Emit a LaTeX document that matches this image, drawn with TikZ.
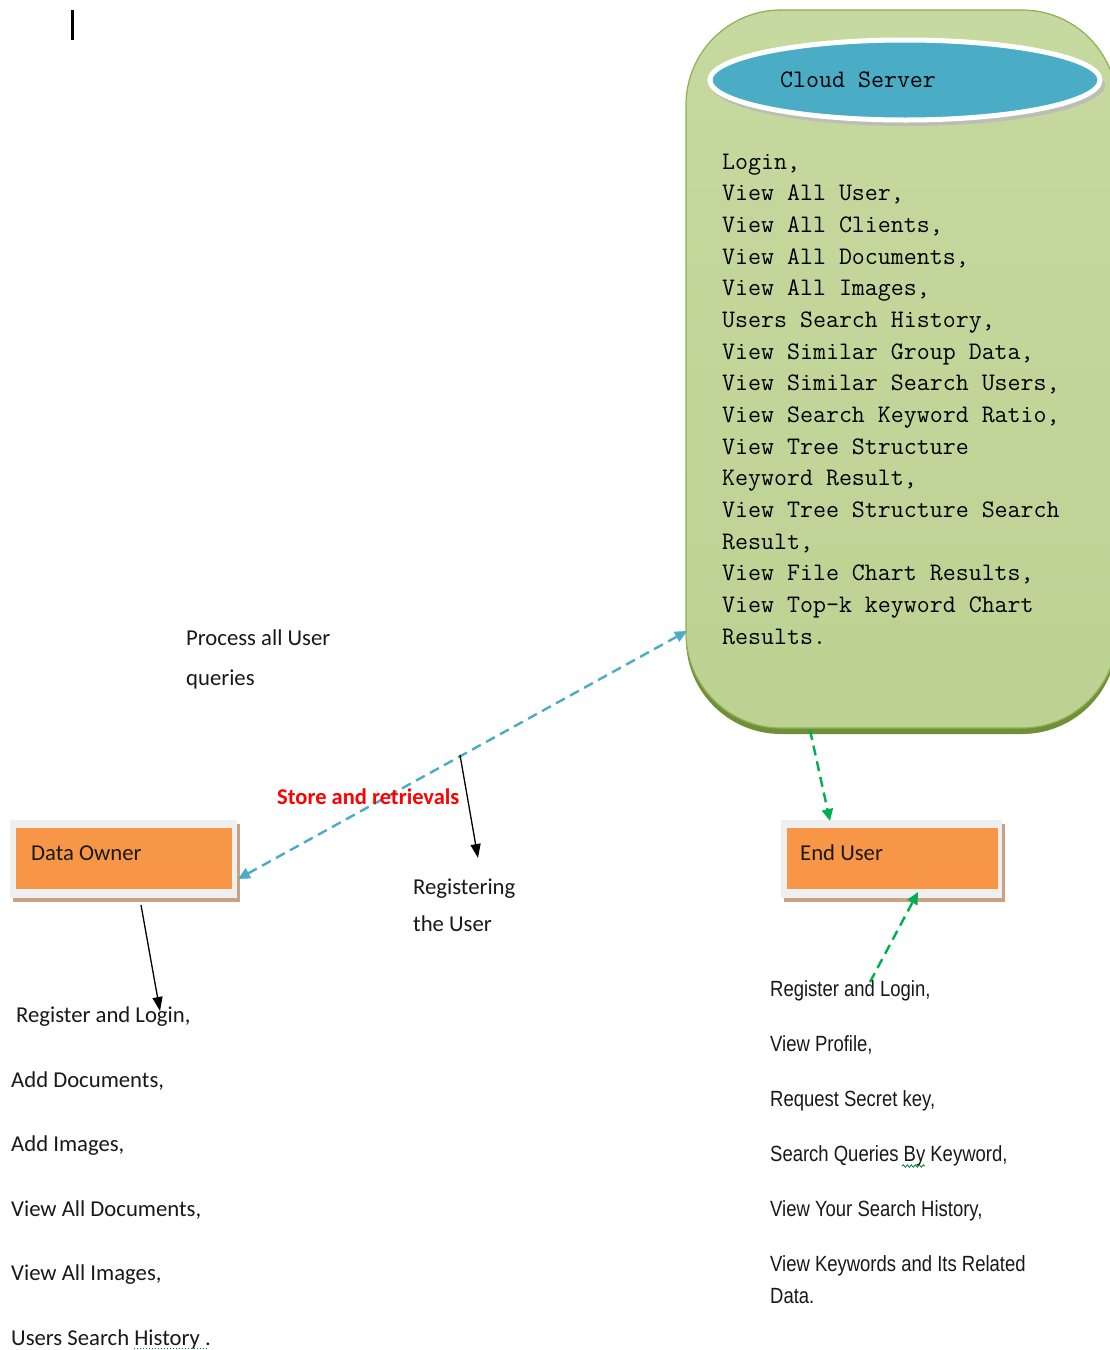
\documentclass[tikz,border=0pt]{standalone}
\usepackage{fontspec}
\setmainfont{Carlito}
\newfontfamily\narrowfont{Liberation Sans}[FakeStretch=0.84]
\usetikzlibrary{arrows.meta,shapes.geometric,decorations.pathmorphing}
\definecolor{cloudtop}{HTML}{C6D9A0}
\definecolor{cloudbot}{HTML}{BCD292}
\definecolor{cloudedge}{HTML}{8FAF50}
\definecolor{cloudshadow}{HTML}{6F8F38}
\definecolor{ovalblue}{HTML}{4BACC6}
\definecolor{boxorange}{HTML}{F79646}
\definecolor{boxframe}{HTML}{EFEFEF}
\definecolor{boxshadow}{HTML}{C9A183}
\definecolor{linkgreen}{HTML}{00B050}
\tikzset{
  calib/.style={font=\fontsize{22.7}{27}\selectfont, inner sep=0pt, anchor=base west, text=black!90},
  monotext/.style={font=\ttfamily\fontsize{25.2}{31.67}\selectfont, inner sep=0pt, anchor=base west, text=black},
  narrowtext/.style={font=\narrowfont\fontsize{22}{30}\selectfont, inner sep=0pt, anchor=base west, text=black!90},
  bluelink/.style={draw=ovalblue, line width=2.4pt, dash pattern=on 10pt off 6pt, {Triangle[length=12pt,width=11pt]}-{Triangle[length=12pt,width=11pt]}},
  greenlink/.style={draw=linkgreen, line width=2.4pt, dash pattern=on 10pt off 6pt, -{Triangle[length=12pt,width=11pt]}},
  blacklink/.style={draw=black, line width=1.3pt, -{Triangle[length=14pt,width=10pt]}},
}
\begin{document}
\begin{tikzpicture}[x=1pt,y=-1pt]
\useasboundingbox (0,0) rectangle (1110,1350);
\clip (0,0) rectangle (1110,1350);
\fill[white] (0,0) rectangle (1110,1350);

% cursor
\draw[line width=3pt] (72,10) -- (72,40);

% cloud server shape
\fill[cloudshadow, rounded corners=95pt] (686,16) rectangle (1117,734);
\path[top color=cloudtop, bottom color=cloudbot, draw=cloudedge, line width=1.2pt, rounded corners=95pt] (686,10) rectangle (1117,728);
\node[inner sep=0pt, minimum width=431pt, minimum height=718pt] (cloud) at (901.5,369) {};
\fill[gray!55, opacity=0.8] (908,85) ellipse [x radius=197pt, y radius=41pt];
\node[ellipse, minimum width=390pt, minimum height=80pt, fill=ovalblue, draw=white, line width=5pt] (oval) at (905,80) {};
\node[monotext] (cstitle) at (780,87) {Cloud Server};

\foreach \t [count=\i] in {{Login,},{View All User,},{View All Clients,},{View All Documents,},{View All Images,},{Users Search History,},{View Similar Group Data,},{View Similar Search Users,},{View Search Keyword Ratio,},{View Tree Structure},{Keyword Result,},{View Tree Structure Search},{Result,},{View File Chart Results,},{View Top-k keyword Chart},{Results.}}
  \node[monotext] (cs\i) at (722,{169+31.67*(\i-1)}) {\t};

% boxes
\fill[boxshadow] (13,824) rectangle (240,902);
\fill[boxframe] (10,820) rectangle (237,898);
\node[fill=boxorange, minimum width=216pt, minimum height=61pt, inner sep=0pt] (owner) at (124,858.5) {};
\node[calib] (ownerlbl) at (31,860) {Data Owner};

\fill[boxshadow] (784,824) rectangle (1005,902);
\fill[boxframe] (781,820) rectangle (1002,898);
\node[fill=boxorange, minimum width=211pt, minimum height=61pt, inner sep=0pt] (enduser) at (892.5,858.5) {};
\node[calib] (enduserlbl) at (800,860) {End User};

% labels
\node[calib] (proc1) at (186,645) {Process all User};
\node[calib] (proc2) at (186,685) {queries};
\node[calib] (reg1) at (413,894) {Registering};
\node[calib] (reg2) at (413,931) {the User};

% connectors
\coordinate (blueA) at (687,631);
\coordinate (blueB) at (238,879);
\draw[bluelink] (blueB) -- (blueA);
\node[calib, text=red, font=\bfseries\fontsize{22.5}{27}\selectfont] (store) at (277,804) {Store and retrievals};

\coordinate (regA) at (460,755);
\coordinate (regB) at (478,858);
\draw[blacklink] (regA) -- (regB);

\coordinate (ownA) at (141,905);
\coordinate (ownB) at (160,1011);
\draw[blacklink] (ownA) -- (ownB);

\coordinate (cloudout) at (810,730);
\coordinate (euin) at (830,821);
\draw[greenlink] (cloudout) -- (euin);
\coordinate (eulist) at (870,982);
\coordinate (euout) at (918,892);
\draw[greenlink] (eulist) -- (euout);

% data owner list
\node[calib] (do1) at (16,1022) {Register and Login,};
\node[calib] (do2) at (11,1087) {Add Documents,};
\node[calib] (do3) at (11,1151) {Add Images,};
\node[calib] (do4) at (11,1216) {View All Documents,};
\node[calib] (do5) at (11,1280) {View All Images,};
\node[calib] (do6) at (11,1345) {Users Search History .};
\draw[linkgreen!70!black, line width=1pt, dotted] (134,1348) -- (208,1348);

% end user list
\node[narrowtext] (eu1) at (770,996) {Register and Login,};
\node[narrowtext] (eu2) at (770,1051) {View Profile,};
\node[narrowtext] (eu3) at (770,1106) {Request Secret key,};
\node[narrowtext] (eu4) at (770,1161) {Search Queries By Keyword,};
\node[narrowtext] (eu5) at (770,1216) {View Your Search History,};
\node[narrowtext] (eu6) at (770,1271) {View Keywords and Its Related};
\node[narrowtext] (eu7) at (770,1303) {Data.};
\draw[linkgreen!70!black, line width=0.8pt, decorate, decoration={snake, amplitude=1.2pt, segment length=4pt}] (902,1166) -- (925,1166);
\end{tikzpicture}
\end{document}
